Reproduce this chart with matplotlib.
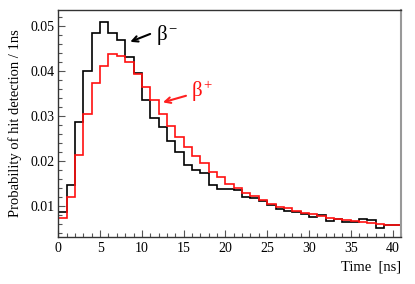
import matplotlib
matplotlib.use("Agg")
import matplotlib.pyplot as plt
import numpy as np
from matplotlib.ticker import MultipleLocator

plt.rcParams['font.family'] = ['Liberation Serif', 'DejaVu Serif']
# upright greek in math text, like the ROOT output
plt.rcParams['mathtext.fontset'] = 'custom'
plt.rcParams['mathtext.rm'] = 'Liberation Serif'
plt.rcParams['mathtext.it'] = 'Liberation Serif'

# bin edges: 1 ns bins from 0 to 41 ns
bin_edges = np.arange(0, 42, 1)

# beta minus (black)
beta_minus = [0.0085, 0.0147, 0.0286, 0.0399, 0.0483, 0.0509, 0.0483, 0.0468,
              0.0430, 0.0394, 0.0336, 0.0296, 0.0275, 0.0244, 0.0219, 0.0190,
              0.0179, 0.0173, 0.0145, 0.0136, 0.0137, 0.0135, 0.0120, 0.0118,
              0.0110, 0.0102, 0.0092, 0.0089, 0.0085, 0.0082, 0.0074, 0.0079,
              0.0067, 0.0070, 0.0064, 0.0063, 0.0071, 0.0068, 0.0051, 0.0057,
              0.0056]

# beta plus (red)
beta_plus = [0.0072, 0.0119, 0.0213, 0.0304, 0.0373, 0.0410, 0.0437, 0.0433,
             0.0419, 0.0392, 0.0364, 0.0336, 0.0303, 0.0277, 0.0253, 0.0231,
             0.0210, 0.0194, 0.0174, 0.0163, 0.0148, 0.0139, 0.0128, 0.0122,
             0.0113, 0.0104, 0.0098, 0.0094, 0.0089, 0.0084, 0.0081, 0.0076,
             0.0073, 0.0070, 0.0068, 0.0067, 0.0064, 0.0062, 0.0059, 0.0057,
             0.0056]

fig = plt.figure(figsize=(4.15, 2.84), dpi=100)
ax = fig.add_axes([0.1405, 0.1665, 0.966 - 0.1405, 0.9648 - 0.1665])

ax.stairs(beta_minus, bin_edges, color='black', linewidth=1.2)
ax.stairs(beta_plus, bin_edges, color='#ff1010', linewidth=1.2)

ax.set_xlim(0, 41)
ax.set_ylim(0.0031, 0.0535)

# ROOT-like ticks inside
ax.xaxis.set_major_locator(MultipleLocator(5))
ax.xaxis.set_minor_locator(MultipleLocator(1))
ax.yaxis.set_major_locator(MultipleLocator(0.01))
ax.yaxis.set_minor_locator(MultipleLocator(0.002))
ax.tick_params(which='both', direction='in', top=False, right=False,
               labelsize=10, color='#555555')
ax.tick_params(which='major', length=5, width=0.8)
ax.tick_params(which='minor', length=3, width=0.8)
ax.tick_params(axis='x', pad=4)
ax.tick_params(axis='y', pad=3)
ax.set_yticks([0.01, 0.02, 0.03, 0.04, 0.05])
ax.set_yticklabels(['0.01', '0.02', '0.03', '0.04', '0.05'])

for side in ['left', 'top', 'bottom']:
    ax.spines[side].set_color('#333333')
    ax.spines[side].set_linewidth(1.0)
ax.spines['right'].set_color('#999999')
ax.spines['right'].set_linewidth(1.5)

ax.set_ylabel('Probability of hit detection / 1ns', fontsize=10.5, labelpad=6)
ax.set_xlabel('Time  [ns]', fontsize=10.5, loc='right', labelpad=4)

# annotations
ax.annotate('', xy=(8.3, 0.0462), xytext=(11.3, 0.0484),
            arrowprops=dict(arrowstyle='->', color='black', lw=1.5))
ax.text(11.7, 0.0480, r'$\beta^{-}$', fontsize=15, color='black', va='center')
ax.annotate('', xy=(12.2, 0.0328), xytext=(15.6, 0.0346),
            arrowprops=dict(arrowstyle='->', color='#ff2020', lw=1.5))
ax.text(15.9, 0.0354, r'$\beta^{+}$', fontsize=15, color='#ff1010', va='center')

fig.savefig('out.png', dpi=100)
